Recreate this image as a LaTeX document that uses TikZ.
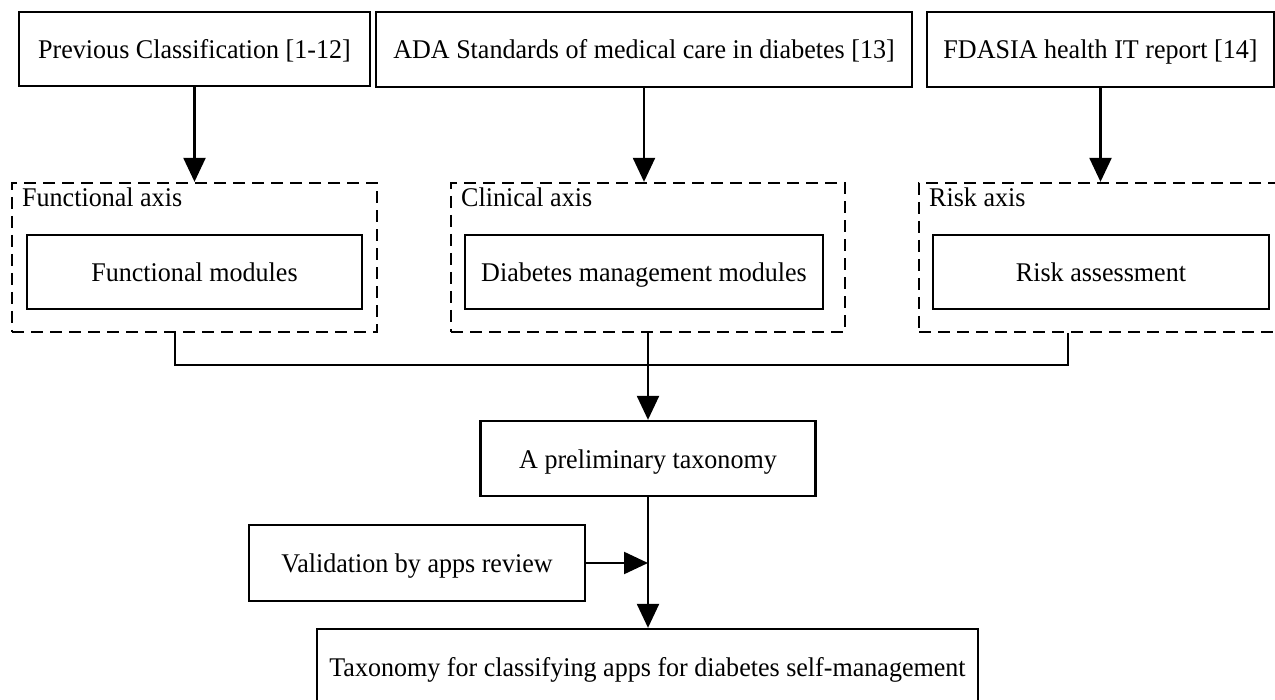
\documentclass[tikz,border=0pt]{standalone}
\usepackage{fontspec}
\setmainfont{Liberation Serif}[FakeStretch=0.965]
\usetikzlibrary{arrows.meta}
\begin{document}
\begin{tikzpicture}[x=1pt,y=-1pt,
  every node/.style={font=\fontsize{27}{31}\selectfont},
  box/.style={draw, line width=2.3pt, inner sep=0pt, align=center, text height=19pt, text depth=0pt},
  axisbox/.style={draw, line width=2.3pt, dash pattern=on 12pt off 7pt, inner sep=0pt},
  lbl/.style={anchor=base west, inner sep=0pt},
  line/.style={line width=2.3pt},
  arr/.style={line width=2.3pt, -{Triangle[length=24pt,width=22pt]}}]
\useasboundingbox (0,0) rectangle (1275,700);
% top sources
\node[box, minimum width=351pt, minimum height=74pt] (src1) at (194.5,49) {Previous Classification [1-12]};
\node[box, minimum width=536pt, minimum height=75pt] (src2) at (644,49.5) {ADA Standards of medical care in diabetes [13]};
\node[box, minimum width=347pt, minimum height=75pt] (src3) at (1100.5,49.5) {FDASIA health IT report [14]};
% axes
\node[axisbox, minimum width=365pt, minimum height=149pt] (fun) at (194.5,257.5) {};
\node[axisbox, minimum width=394pt, minimum height=149pt] (cla) at (648,257.5) {};
\node[axisbox, minimum width=372pt, minimum height=149pt] (ris) at (1105,257.5) {};
\node[lbl] (funl) at (22,207) {Functional axis};
\node[lbl] (clal) at (461,207) {Clinical axis};
\node[lbl] (risl) at (929,207) {Risk axis};
\node[box, minimum width=335pt, minimum height=74pt] (funm) at (194.5,272) {Functional modules};
\node[box, minimum width=358pt, minimum height=74pt] (clam) at (644,272) {Diabetes management modules};
\node[box, minimum width=336pt, minimum height=74pt] (rism) at (1101,272) {Risk assessment};
% lower
\node[box, minimum width=335pt, minimum height=75pt] (pre) at (648,458.5) {A preliminary taxonomy};
\node[box, minimum width=336pt, minimum height=76pt] (val) at (417,563) {Validation by apps review};
\node[box, minimum width=661pt, minimum height=76pt] (fin) at (647.5,667) {Taxonomy for classifying apps for diabetes self-management};
% connectors
\draw[arr] (src1.south) -- (src1.south |- fun.north);
\draw[arr] (src2.south) -- (src2.south |- cla.north);
\draw[arr] (src3.south) -- (src3.south |- ris.north);
\coordinate (j1) at (175,365);
\coordinate (j3) at (1068,365);
\draw[line] (fun.south -| j1) -- (j1) -- (j3) -- (ris.south -| j3);
\draw[arr] (cla.south) -- (cla.south |- pre.north);
\draw[arr] (pre.south) -- (pre.south |- fin.north);
\draw[arr] (val.east) -- (val.east -| pre.south);
\end{tikzpicture}
\end{document}
